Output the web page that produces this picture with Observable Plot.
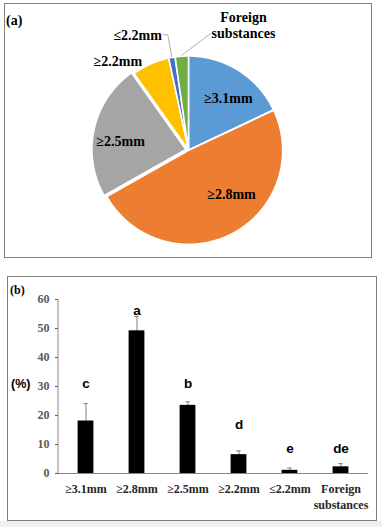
<!DOCTYPE html>
<html><head><meta charset="utf-8">
<script src="https://cdn.jsdelivr.net/npm/d3@7"></script>
<script src="https://cdn.jsdelivr.net/npm/@observablehq/plot@0.6"></script>
<style>
body{margin:0;background:#fff;}
#page{position:relative;width:382px;height:527px;overflow:hidden;background:#fff;}
#page svg{position:absolute;left:0;background:transparent;}
.panel{position:absolute;border:1px solid #7f7f7f;box-sizing:border-box;pointer-events:none;}
.lab{position:absolute;font-weight:bold;white-space:nowrap;line-height:1;color:#000;}
</style></head><body><div id="page"></div>
<script>
// ---- data ----
const categories = ["≥3.1mm", "≥2.8mm", "≥2.5mm", "≥2.2mm", "≤2.2mm", "Foreign substances"];
const means = [18.1, 49.2, 23.5, 6.5, 1.1, 2.3];
const errors = [6.0, 5.0, 1.2, 1.3, 0.8, 1.1];
const letters = ["c", "a", "b", "d", "e", "de"];
const letterLevels = [31, 56, 31, 17, 8.6, 8.6];
const yTicks = [0, 10, 20, 30, 40, 50, 60];

// ---- style ----
const SERIF = "'Liberation Serif', 'Times New Roman', Times, 'DejaVu Serif', serif";
const SANS = "'Liberation Sans', Arial, Helvetica, sans-serif";
const sliceColors = ["#5B9BD5", "#ED7D31", "#A5A5A5", "#FFC000", "#4472C4", "#70AD47"];
const explode = [0, 0.004, 0.028, 0, 0, 0];
// label placement in polar form (degrees clockwise from 12 o'clock, radius in pie radii)
const labelPolar = [[37.3, 0.70], [135.3, 0.65], [278, 0.73], [321.6, 1.21], [336.2, 1.34], [23.8, 1.45]];
const page = document.getElementById("page");
const R = 94, CX = 188, CY = 149.5;

// ---- pie (a) ----
const arcs = d3.pie().sort(null).value(d => d)(means);
const rad = a => a * Math.PI / 180;
const marksA = [];
arcs.forEach((a, i) => {
  const mid = (a.startAngle + a.endAngle) / 2;
  const ox = explode[i] * Math.sin(mid), oy = explode[i] * Math.cos(mid);
  const pts = [{x: ox, y: oy}];
  const n = Math.max(3, Math.ceil((a.endAngle - a.startAngle) / 0.01));
  for (let k = 0; k <= n; k++) {
    const t = a.startAngle + (a.endAngle - a.startAngle) * k / n;
    pts.push({x: ox + Math.sin(t), y: oy + Math.cos(t)});
  }
  marksA.push(Plot.line(pts, {x: "x", y: "y", curve: "linear-closed", fill: sliceColors[i], stroke: "white", strokeWidth: 1.6, strokeLinejoin: "round"}));
});
// leader lines for the two thin slices
const mid4 = (arcs[4].startAngle + arcs[4].endAngle) / 2;
const mid5 = (arcs[5].startAngle + arcs[5].endAngle) / 2;
const leaders = [
  [{x: 1.01 * Math.sin(mid4), y: 1.01 * Math.cos(mid4)}, {x: 1.247 * Math.sin(mid4), y: 1.247 * Math.cos(mid4)}, {x: 1.247 * Math.sin(mid4) - 0.045, y: 1.247 * Math.cos(mid4)}],
  [{x: 1.01 * Math.sin(mid5), y: 1.01 * Math.cos(mid5)}, {x: 0.234, y: 1.239}]
];
leaders.forEach(l => marksA.push(Plot.line(l, {x: "x", y: "y", stroke: "#a6a6a6", strokeWidth: 0.9})));
const labelRows = categories.map((c, i) => ({
  text: c.replace(" ", "\n"),
  x: labelPolar[i][1] * Math.sin(rad(labelPolar[i][0])),
  y: labelPolar[i][1] * Math.cos(rad(labelPolar[i][0]))
}));
marksA.push(Plot.text(labelRows, {x: "x", y: "y", text: "text", fontFamily: SERIF, fontWeight: "bold", fontSize: 14, lineHeight: 1.15, fill: "#000"}));

const pie = Plot.plot({
  width: 382, height: 262, margin: 0,
  x: {domain: [-1, 1], range: [CX - R, CX + R], axis: null},
  y: {domain: [-1, 1], range: [CY + R, CY - R], axis: null},
  style: {background: "transparent", overflow: "visible"},
  marks: marksA
});
pie.style.top = "0px";
page.appendChild(pie);

// ---- bars (b) ----
const rows = categories.map((c, i) => ({cat: c, mean: means[i], err: errors[i], letter: letters[i], ly: letterLevels[i]}));
const yLine = (index, scales) => {
  const l = d3.create("svg:line")
    .attr("x1", 58).attr("x2", 58)
    .attr("y1", scales.y(0)).attr("y2", scales.y(60))
    .attr("stroke", "#868686").attr("stroke-width", 1);
  return l.node();
};
const bars = Plot.plot({
  width: 382, height: 244, marginTop: 23, marginBottom: 47, marginLeft: 58, marginRight: 14,
  x: {domain: categories, padding: 0, axis: null},
  y: {domain: [0, 60], axis: null},
  style: {background: "transparent", overflow: "visible"},
  marks: [
    Plot.axisY({ticks: yTicks, tickSize: 3, tickPadding: 6, label: null, fontFamily: SERIF, fontWeight: "bold", fontSize: 12, color: "#595959"}),
    Plot.axisX({tickSize: 0, tickPadding: 8, label: null, tickFormat: d => d.replace(" ", "\n"), fontFamily: SERIF, fontWeight: "bold", fontSize: 12, lineHeight: 1.35, color: "#262626"}),
    Plot.ruleX(rows, {x: "cat", y1: d => d.mean - d.err, y2: d => d.mean + d.err, stroke: "#808080", strokeWidth: 1}),
    Plot.tickY(rows, {x: "cat", y: d => d.mean + d.err, stroke: "#808080", insetLeft: 23.3, insetRight: 23.3}),
    Plot.barY(rows, {x: "cat", y: "mean", fill: "#000", insetLeft: 17.6, insetRight: 17.6}),
    Plot.ruleY([0], {stroke: "#868686", strokeWidth: 1}),
    yLine,
    Plot.text(rows, {x: "cat", y: "ly", text: "letter", fontFamily: SANS, fontWeight: "bold", fontSize: 13.5, fill: "#000"})
  ]
});
bars.style.top = "276px";
page.appendChild(bars);

// ---- panel frames and tags ----
function add(html, cls, css) { const d = document.createElement("div"); d.className = cls; d.innerHTML = html; Object.assign(d.style, css); page.appendChild(d); }
add("", "panel", {left: "4px", top: "3px", width: "368px", height: "255px"});
add("", "panel", {left: "7px", top: "276px", width: "370px", height: "245px"});
add("", "", {position: "absolute", left: "0px", top: "521px", width: "382px", height: "6px", background: "#efefef"});
add("(a)", "lab", {left: "6px", top: "14px", fontFamily: SERIF, fontSize: "14px"});
add("(b)", "lab", {left: "10px", top: "284px", fontFamily: SERIF, fontSize: "12px"});
add("(%)", "lab", {left: "11px", top: "378px", fontFamily: SANS, fontSize: "12.5px"});
</script></body></html>
